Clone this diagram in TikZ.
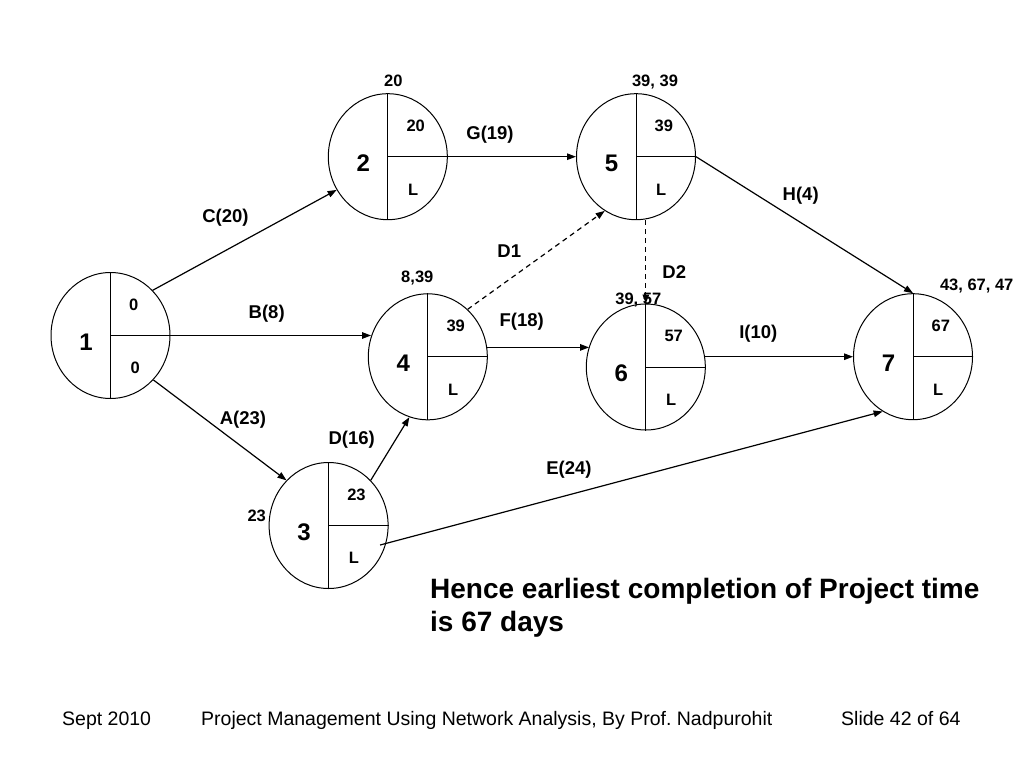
\documentclass[tikz,border=0pt]{standalone}
\usepackage{fontspec}
\setmainfont{Liberation Sans}
\usetikzlibrary{shapes.geometric,arrows.meta,calc}
\tikzset{
  evt/.style={ellipse, draw, line width=1pt, minimum width=119pt, minimum height=126pt, inner sep=0pt},
  divl/.style={line width=1pt},
  num/.style={font=\fontsize{24}{24}\selectfont\bfseries, inner sep=0pt, anchor=base},
  sml/.style={font=\fontsize{16.5}{16.5}\selectfont\bfseries, inner sep=0pt},
  lbl/.style={font=\fontsize{18.5}{18.5}\selectfont\bfseries, inner sep=0pt, anchor=base},
  arr/.style={line width=1.2pt, -{Triangle[length=9pt,width=6.5pt]}},
  dsh/.style={arr, dash pattern=on 5pt off 4pt},
  concl/.style={font=\fontsize{28}{33}\selectfont\bfseries, inner sep=0pt, anchor=base west},
  foot/.style={font=\fontsize{19.5}{19.5}\selectfont, inner sep=0pt, anchor=base west}
}
\newcommand\evnode[6]{%
  \node[evt] (#1) at (#2,#3) {};
  \draw[divl] (#1.north) -- (#1.south);
  \draw[divl] (#1.center) -- (#1.east);
  \node[num] (#1n) at ($(#1)+(-24.5,14.6)$) {#4};
  \node[sml, anchor=base west] (#1u) at ($(#1)+(18.5,-25.5)$) {#5};
  \node[sml, anchor=base west] (#1l) at ($(#1)+(20,38.4)$) {#6};
}
\begin{document}
\begin{tikzpicture}[x=1pt,y=-1pt]
\fill[white] (0,0) rectangle (1024,768);
\path[use as bounding box] (0,0) rectangle (1024,768);

% events
\evnode{n1}{110.5}{335.5}{1}{0}{0}
\evnode{n2}{387.8}{156.7}{2}{20}{L}
\evnode{n5}{636}{156.7}{5}{39}{L}
\evnode{n4}{427.8}{356.8}{4}{39}{L}
\evnode{n6}{645.8}{367}{6}{57}{L}
\evnode{n7}{913}{356.7}{7}{67}{L}
\evnode{n3}{328.6}{525.5}{3}{23}{L}

% top labels (event times)
\node[sml, anchor=base] (t2) at (393.3,86) {20};
\node[sml, anchor=base] (t5) at (655,86) {39, 39};
\node[sml, anchor=base] (t4) at (417.3,282) {8,39};
\node[sml, anchor=base] (t6) at (638.3,304.3) {39, 57};
\node[sml, anchor=base] (t7) at (976.7,290) {43, 67, 47};
\node[sml, anchor=base] (t3) at (256.7,521) {23};

% connectors
\draw[arr] (n1.47) -- (n2.213);
\draw[arr] (n1.east) -- (n1.east -| n4.160);
\draw[arr] (n1.-46) -- (n3.133);
\draw[arr] (n3.47) -- (n4.253);
\coordinate (e0) at ($(n3)+(51.5,19.5)$);
\draw[arr] (e0) -- (n7.241);
\draw[arr] (n2.east) -- (n5.west);
\draw[arr] (n5.east) -- (n7.north);
\draw[dsh] (n4.50) -- (n5.240);
\draw[dsh] (n6.north |- n5.south) -- (n6.north);
\draw[arr] (n4.9.7) -- (n4.9.7 -| n6.160);
\draw[arr] (n7.west -| n6.9) -- (n7.west);

% activity labels
\node[lbl] (lc) at (225.5,222) {C(20)};
\node[lbl] (lb) at (266.7,318) {B(8)};
\node[lbl] (la) at (243,424) {A(23)};
\node[lbl] (ld) at (351.7,444.8) {D(16)};
\node[lbl] (le) at (569,474.8) {E(24)};
\node[lbl] (lg) at (490,139.8) {G(19)};
\node[lbl] (lh) at (800.7,200.5) {H(4)};
\node[lbl] (ld1) at (509.3,257.3) {D1};
\node[lbl] (ld2) at (674.3,278.3) {D2};
\node[lbl] (lf) at (521.7,326.5) {F(18)};
\node[lbl] (li) at (758.3,338.1) {I(10)};

% conclusion
\node[concl] (c1) at (430,598) {Hence earliest completion of Project time};
\node[concl] (c2) at (430,631) {is 67 days};

% footer
\node[foot] (f1) at (62,725) {Sept 2010};
\node[foot] (f2) at (201,725) {Project Management Using Network Analysis, By Prof.\ Nadpurohit};
\node[foot] (f3) at (841,725) {Slide 42 of 64};
\end{tikzpicture}
\end{document}
